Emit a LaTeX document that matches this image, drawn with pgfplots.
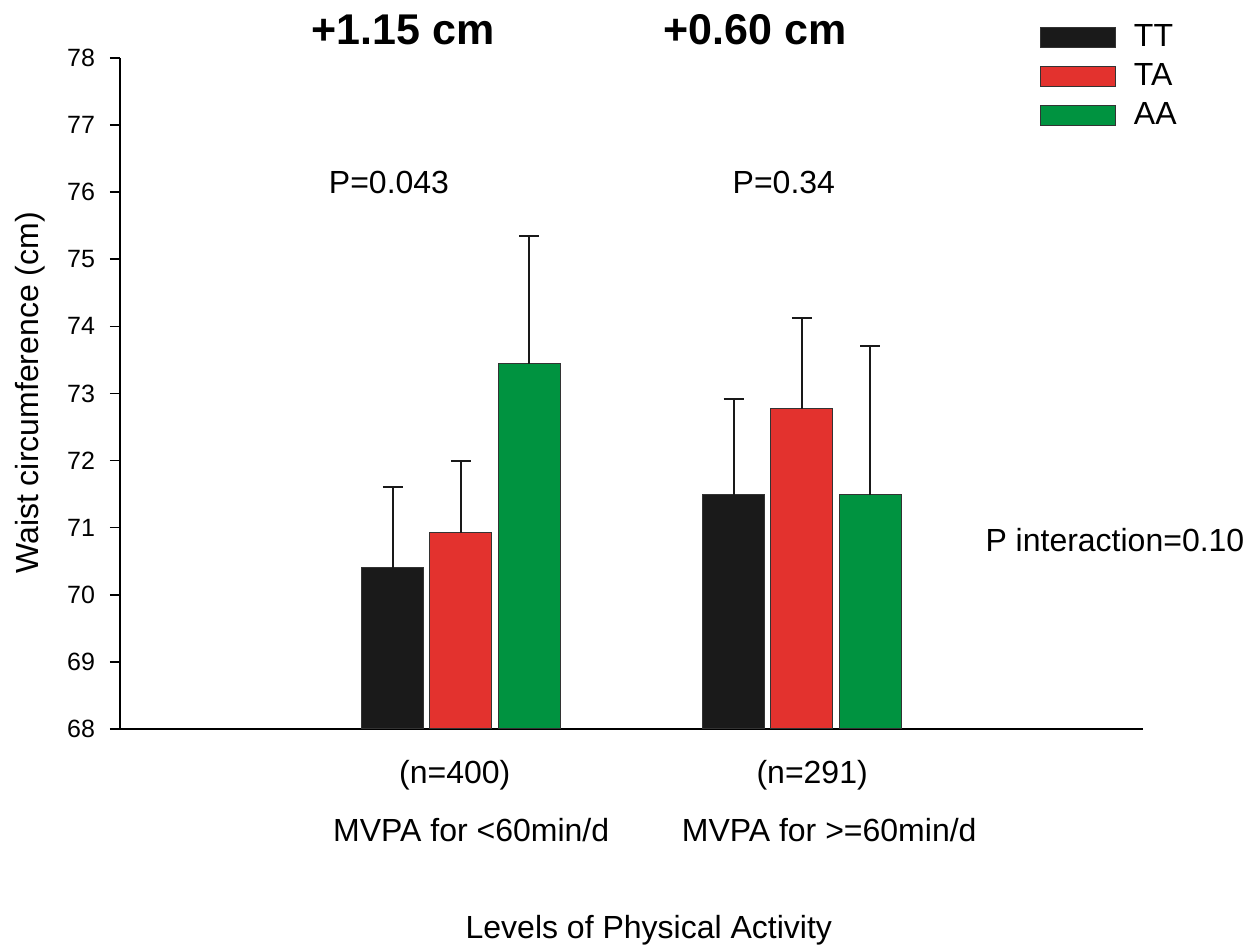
\documentclass[border=0pt]{standalone}
\usepackage{pgfplots}
\pgfplotsset{compat=1.18}
\usepackage{fontspec}
\setmainfont{Liberation Sans}
\definecolor{cTT}{HTML}{1A1A1A}
\definecolor{cTA}{HTML}{E3322E}
\definecolor{cAA}{HTML}{009340}
\pgfplotsset{
  myerr/.style={
    /pgfplots/error bars/y dir=plus,
    /pgfplots/error bars/y explicit,
    /pgfplots/error bars/error bar style={line width=1pt, black!90},
    /pgfplots/error bars/error mark options={rotate=90, mark size=5pt, line width=1pt, black!90}
  }
}
\begin{document}
\begin{tikzpicture}
\begin{axis}[
  scale only axis,
  width=511.5pt, height=335.5pt,
  xmin=0, xmax=3, ymin=68, ymax=78,
  axis x line*=bottom, axis y line*=left,
  axis line style={line width=0.8pt, black},
  xtick=\empty,
  ytick={68,69,...,78},
  tick align=outside,
  major tick length=5pt,
  tick style={line width=0.8pt, black},
  /pgf/number format/assume math mode=true,
  yticklabel style={font=\fontsize{12.5}{15}\selectfont, xshift=-4pt},
  ylabel={Waist circumference (cm)},
  ylabel style={at={(rel axis cs:-0.088,0.5007)}, anchor=center, font=\fontsize{16}{19}\selectfont},
  xlabel={Levels of Physical Activity},
  xlabel style={at={(rel axis cs:0.517,-0.2996)}, anchor=center, font=\fontsize{16}{19}\selectfont},
  clip=false,
  legend style={draw=none, fill=none, at={(rel axis cs:0.899,1.056)}, anchor=north west,
    font=\fontsize{16}{19}\selectfont, row sep=3pt, inner sep=0pt},
  legend cell align=left,
  legend image code/.code={\draw[#1, draw=black!80, line width=0.5pt] (0pt,-5pt) rectangle (37.5pt,5pt);},
  every axis plot/.append style={
    ybar, bar width=0.182, bar shift=0pt, draw=black!80, line width=0.5pt, myerr},
]
\addplot[fill=cTT] coordinates {(0.8,70.40) +- (0,1.21) (1.8,71.49) +- (0,1.42)};
\addlegendentry{\hspace{7pt}TT}
\addplot[fill=cTA] coordinates {(1.0,70.92) +- (0,1.08) (2.0,72.77) +- (0,1.35)};
\addlegendentry{\hspace{7pt}TA}
\addplot[fill=cAA] coordinates {(1.2,73.44) +- (0,1.91) (2.2,71.49) +- (0,2.22)};
\addlegendentry{\hspace{7pt}AA}

\node[font=\fontsize{21.5}{25}\selectfont\bfseries] at (axis cs:0.83,78.42) {+1.15 cm};
\node[font=\fontsize{21.5}{25}\selectfont\bfseries] at (axis cs:1.862,78.42) {+0.60 cm};
\node[font=\fontsize{16}{19}\selectfont] at (axis cs:0.789,76.14) {P=0.043};
\node[font=\fontsize{16}{19}\selectfont] at (axis cs:1.947,76.14) {P=0.34};
\node[font=\fontsize{16}{19}\selectfont] at (axis cs:2.918,70.82) {P interaction=0.10};
\node[font=\fontsize{16}{19}\selectfont] at (axis cs:0.982,67.31) {(n=400)};
\node[font=\fontsize{16}{19}\selectfont] at (axis cs:2.03,67.31) {(n=291)};
\node[font=\fontsize{16}{19}\selectfont] at (axis cs:1.03,66.49) {MVPA for <60min/d};
\node[font=\fontsize{16}{19}\selectfont] at (axis cs:2.08,66.49) {MVPA for >=60min/d};
\coordinate (bl) at (rel axis cs:-0.1173,-0.3264);
\coordinate (tr) at (rel axis cs:1.1056,1.0864);
\end{axis}
\path (bl) rectangle (tr);
\end{tikzpicture}
\end{document}
